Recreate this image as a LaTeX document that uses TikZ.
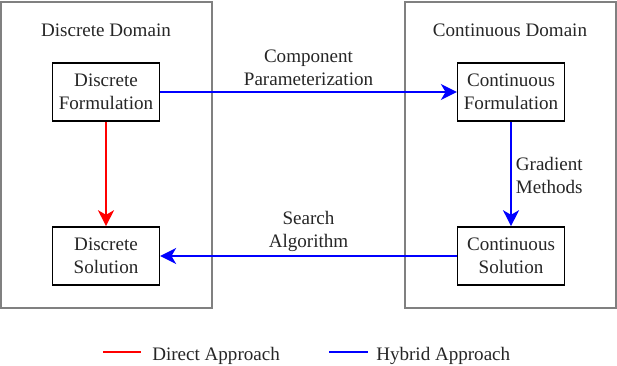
\documentclass[tikz,border=0pt]{standalone}
\usepackage{fontspec}
\setmainfont{Liberation Serif}
\usetikzlibrary{arrows.meta}
\begin{document}
\begin{tikzpicture}[x=0.75pt,y=-0.75pt,
  every node/.style={font=\fontsize{14.3}{17.5}\selectfont, text=black!85},
  domainframe/.style={draw=black!50, line width=1.2pt},
  stagebox/.style={draw=black, line width=1.2pt, fill=white, align=center,
    minimum width=80pt, minimum height=43.5pt, inner sep=2pt},
  headtip/.style={-{Stealth[length=12pt,width=12pt,inset=3.5pt]}},
  directline/.style={draw=red, line width=1.3pt},
  hybridline/.style={draw=blue, line width=1.3pt},
  edgelabel/.style={align=center, inner sep=2pt}]
\useasboundingbox (0,0) rectangle (617,366);

% domain frames
\draw[domainframe] (1,2) rectangle (212,308);
\draw[domainframe] (405,2) rectangle (616,308);
\node (dtitle) at (106,30) {Discrete Domain};
\node (ctitle) at (510,30) {Continuous Domain};

% stages
\node[stagebox] (df) at (106,92) {Discrete\\Formulation};
\node[stagebox] (ds) at (106,256) {Discrete\\Solution};
\node[stagebox] (cf) at (511,92) {Continuous\\Formulation};
\node[stagebox] (cs) at (511,256) {Continuous\\Solution};

% connectors
\draw[directline, headtip] (df) -- (ds);
\draw[hybridline, headtip] (df) -- node[edgelabel, above=2pt] {Component\\Parameterization} (cf);
\draw[hybridline, headtip] (cf) -- node[edgelabel, right=1pt, yshift=-1pt] {Gradient\\Methods} (cs);
\draw[hybridline, headtip] (cs) -- node[edgelabel, above=0.5pt] {Search\\Algorithm} (ds);

% legend
\coordinate (ra) at (103,352);
\coordinate (rb) at (141,352);
\coordinate (ba) at (329,352);
\coordinate (bb) at (368,352);
\draw[directline] (ra) -- (rb);
\draw[hybridline] (ba) -- (bb);
\node[anchor=base west, inner sep=0pt] (ldirect) at (152,360) {Direct Approach};
\node[anchor=base west, inner sep=0pt] (lhybrid) at (376,360) {Hybrid Approach};
\end{tikzpicture}
\end{document}
